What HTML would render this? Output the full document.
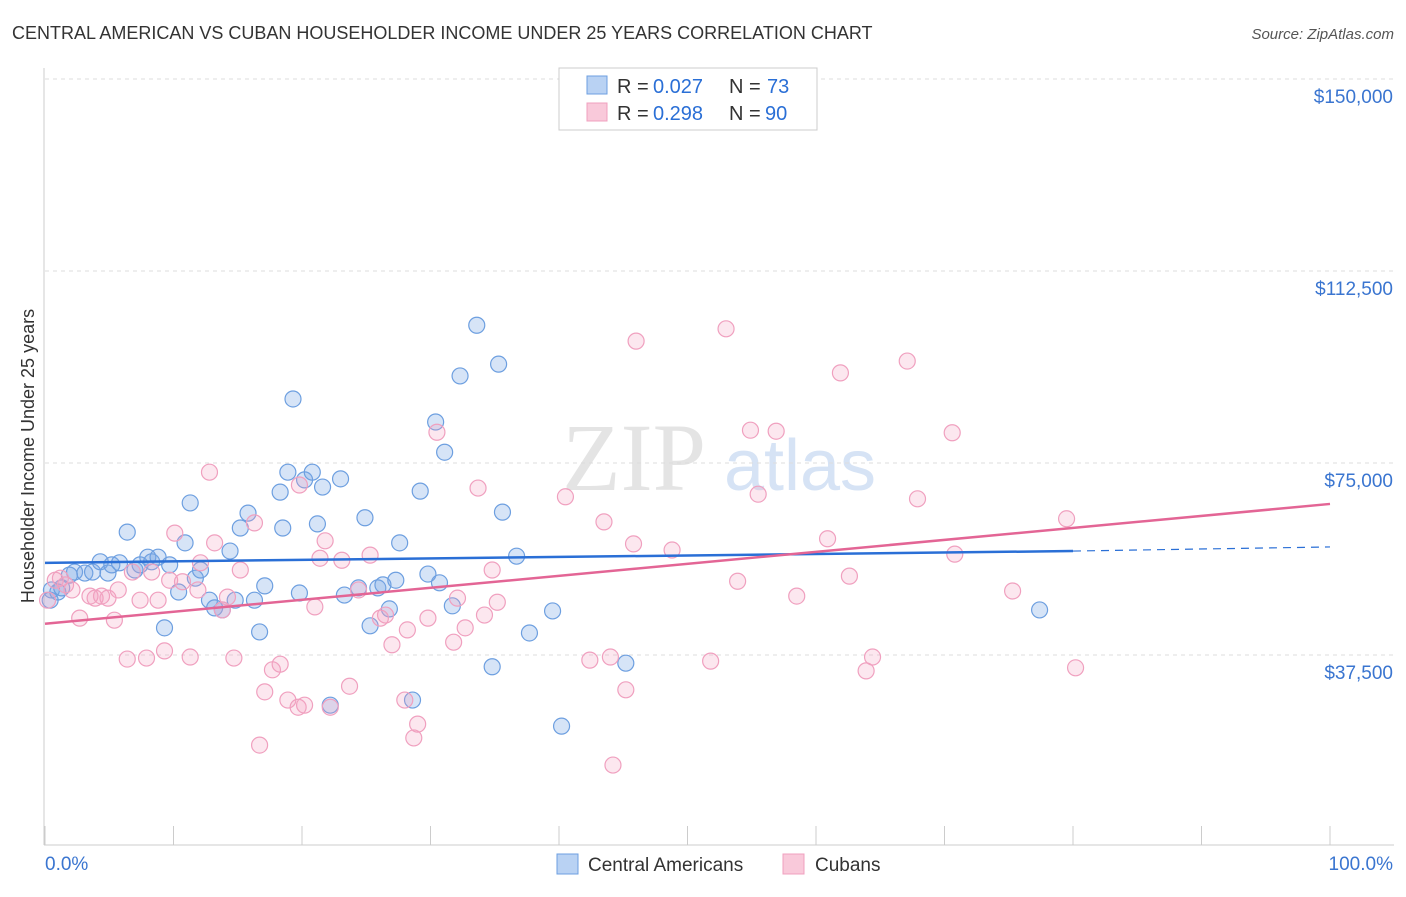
<!DOCTYPE html>
<html><head><meta charset="utf-8"><style>
body{margin:0;background:#fff;font-family:"Liberation Sans",sans-serif}
</style></head><body>
<svg id="c" width="1406" height="892" xmlns="http://www.w3.org/2000/svg">
<text x="12" y="39" font-size="18" fill="#333">CENTRAL AMERICAN VS CUBAN HOUSEHOLDER INCOME UNDER 25 YEARS CORRELATION CHART</text>
<text x="1394" y="39" font-size="15" fill="#555" font-style="italic" text-anchor="end">Source: ZipAtlas.com</text>
<text x="634" y="490" font-size="96" fill="#e4e4e4" font-family="Liberation Serif" text-anchor="middle">ZIP</text>
<text x="800" y="490" font-size="72" fill="#d6e3f5" text-anchor="middle">atlas</text>
<text transform="translate(34,456) rotate(-90)" font-size="18" fill="#333" text-anchor="middle">Householder Income Under 25 years</text>
<g id="grid"></g><g id="marks"></g>
<g>
<rect x="559" y="68" width="258" height="62" fill="#fff" stroke="#ccc"/>
<rect x="587" y="76" width="20" height="18" fill="#b9d2f3" stroke="#6d9fe0"/>
<rect x="587" y="103" width="20" height="18" fill="#f9c9da" stroke="#f0a0bf"/>
<text y="93" font-size="20" fill="#333"><tspan x="617">R =</tspan><tspan x="653" fill="#2a6fd6">0.027</tspan><tspan x="729">N =</tspan><tspan x="767" fill="#2a6fd6">73</tspan></text>
<text y="120" font-size="20" fill="#333"><tspan x="617">R =</tspan><tspan x="653" fill="#2a6fd6">0.298</tspan><tspan x="729">N =</tspan><tspan x="765" fill="#2a6fd6">90</tspan></text>
</g>
<g>
<rect x="557" y="854" width="21" height="20" fill="#b9d2f3" stroke="#6d9fe0"/>
<text x="588" y="871" font-size="19" fill="#333">Central Americans</text>
<rect x="783" y="854" width="21" height="20" fill="#f9c9da" stroke="#f0a0bf"/>
<text x="815" y="871" font-size="19" fill="#333">Cubans</text>
</g>
<text x="45" y="870" font-size="19" fill="#3a75d0">0.0%</text>
<text x="1393" y="870" font-size="19" fill="#3a75d0" text-anchor="end">100.0%</text>
</svg>
<script>
const yTicks=[37500,75000,112500,150000];
const yTickLabels=["$37,500","$75,000","$112,500","$150,000"];
const blueX=[0.4,0.5,1.0,1.3,1.9,2.3,3.1,3.7,4.3,4.9,5.2,5.8,6.4,7.0,7.4,8.0,8.3,8.8,9.3,9.7,10.4,10.9,11.3,11.7,12.1,12.8,13.2,13.8,14.4,14.8,15.2,15.8,16.3,16.7,17.1,18.3,18.5,18.9,19.3,19.8,20.2,20.8,21.2,21.6,22.2,23.0,23.3,24.4,24.9,25.3,25.9,26.3,26.8,27.3,27.6,28.6,29.2,29.8,30.4,30.7,31.1,31.7,32.3,33.6,34.8,35.3,35.6,36.7,37.7,39.5,40.2,45.2,77.4];
const blueY=[48.2,50.2,49.8,50.6,53.1,53.7,53.5,53.7,55.7,53.5,55.1,55.5,61.5,54.1,55.1,56.6,55.7,56.6,42.8,55.1,49.8,59.4,67.2,52.5,54.1,48.2,46.7,46.3,57.8,48.2,62.3,65.2,48.2,42.0,51.0,69.3,62.3,73.2,87.5,49.6,71.7,73.2,63.1,70.3,27.7,71.9,49.2,50.6,64.3,43.2,50.6,51.2,46.5,52.1,59.4,28.7,69.5,53.3,83.0,51.6,77.1,47.1,92.0,101.9,35.2,94.3,65.4,56.8,41.8,46.1,23.6,35.9,46.3];
const pinkX=[0.2,0.8,1.2,1.6,2.1,2.7,3.5,3.9,4.4,4.9,5.4,5.7,6.4,6.8,7.4,7.9,8.3,8.8,9.3,9.7,10.1,10.7,11.3,11.9,12.1,12.8,13.2,13.8,14.2,14.7,15.2,16.3,16.7,17.1,17.7,18.3,18.9,19.7,19.8,20.2,21.0,21.4,21.8,22.2,23.1,23.7,24.4,25.3,26.1,26.5,27.0,28.0,28.2,28.7,29.0,29.8,30.5,31.8,32.1,32.7,33.7,34.2,34.8,35.2,40.5,42.4,43.5,44.0,44.2,45.2,45.8,46.0,48.8,51.8,53.0,53.9,54.9,55.5,56.9,58.5,60.9,61.9,62.6,63.9,64.4,67.1,67.9,70.6,70.8,75.3,79.5,80.2];
const pinkY=[48.2,52.1,52.5,51.2,50.2,44.7,49.0,48.6,49.0,48.6,44.3,50.2,36.7,53.7,48.2,36.9,53.7,48.2,38.3,52.1,61.3,51.8,37.1,50.2,55.5,73.2,59.4,46.3,48.8,36.9,54.1,63.3,19.9,30.3,34.6,35.7,28.7,27.3,70.7,27.7,46.9,56.4,59.8,27.3,56.0,31.4,50.2,57.0,44.7,45.3,39.5,28.7,42.4,21.3,24.0,44.7,81.0,40.0,48.6,42.8,70.1,45.3,54.1,47.8,68.4,36.5,63.5,37.1,16.0,30.7,59.2,98.8,58.0,36.3,101.2,51.9,81.4,68.9,81.2,49.0,60.2,92.6,52.9,34.4,37.1,94.9,68.0,80.9,57.2,50.0,64.1,35.0];
const blueTrend=[55.5,57.8,58.6];
const pinkTrend=[43.6,67.0];
const X=p=>45+p*12.85, Y=v=>847-v/195.3;
const NS="http://www.w3.org/2000/svg";
function mk(parent,tag,attrs){const e=document.createElementNS(NS,tag);for(const k in attrs)e.setAttribute(k,attrs[k]);parent.appendChild(e);return e;}
const g=document.getElementById('grid'), m=document.getElementById('marks');
yTicks.forEach((t,i)=>{
 let l=mk(g,'line',{x1:45,x2:1394,y1:Y(t),y2:Y(t),stroke:'#ddd','stroke-dasharray':'4,4'});
 
 
 let tx=mk(g,'text',{x:1393,y:Y(t)+24,'font-size':19,fill:'#3a75d0','text-anchor':'end'});
 tx.textContent=yTickLabels[i];
 
 
});
let ax=mk(g,'line',{x1:44,x2:44,y1:68,y2:845,stroke:'#ccc'});


let bx=mk(g,'line',{x1:44,x2:1394,y1:845,y2:845,stroke:'#ccc'});


for(let i=0;i<=10;i++){let t=mk(g,'line',{x1:X(i*10),x2:X(i*10),y1:826,y2:845,stroke:'#ccc'});
 
 }
blueX.forEach((x,i)=>{let c=mk(m,'circle',{cx:X(x),cy:Y(blueY[i]*1000),r:8,fill:'rgba(120,165,230,0.3)',stroke:'#6d9fe0','stroke-width':1.2});
 
 });
pinkX.forEach((x,i)=>{let c=mk(m,'circle',{cx:X(x),cy:Y(pinkY[i]*1000),r:8,fill:'rgba(245,160,190,0.25)',stroke:'#f0a0bf','stroke-width':1.2});
 
 });
let bl=mk(m,'line',{x1:X(0),y1:Y(blueTrend[0]*1000),x2:X(80),y2:Y(blueTrend[1]*1000),stroke:'#2a6fd6','stroke-width':2.5});


let bd=mk(m,'line',{x1:X(80),y1:Y(blueTrend[1]*1000),x2:X(100),y2:Y(blueTrend[2]*1000),stroke:'#2a6fd6','stroke-width':1.2,'stroke-dasharray':'8,6'});


let pl=mk(m,'line',{x1:X(0),y1:Y(pinkTrend[0]*1000),x2:X(100),y2:Y(pinkTrend[1]*1000),stroke:'#e36595','stroke-width':2.5});


</script>
</body></html>
